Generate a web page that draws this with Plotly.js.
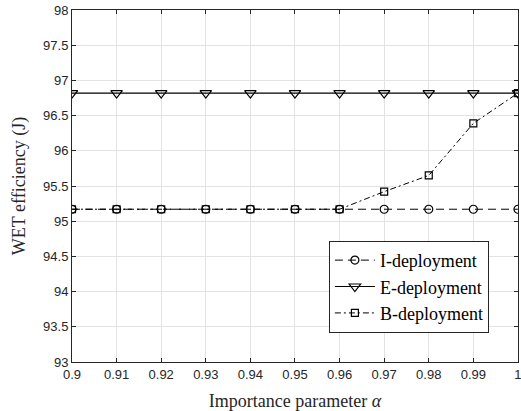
<!DOCTYPE html>
<html><head><meta charset="utf-8">
<script src="https://cdn.plot.ly/plotly-3.0.1.min.js"></script>
<style>html,body{margin:0;padding:0;background:#fff}</style>
</head><body>
<div id="chart" style="width:521px;height:411px"></div>
<script>
const alpha = [0.9, 0.91, 0.92, 0.93, 0.94, 0.95, 0.96, 0.97, 0.98, 0.99, 1.0];
const iDeploy = [95.17, 95.17, 95.17, 95.17, 95.17, 95.17, 95.17, 95.17, 95.17, 95.17, 95.17];
const eDeploy = [96.82, 96.82, 96.82, 96.82, 96.82, 96.82, 96.82, 96.82, 96.82, 96.82, 96.82];
const bDeploy = [95.17, 95.17, 95.17, 95.17, 95.17, 95.17, 95.17, 95.42, 95.65, 96.39, 96.82];
const xTicks = [0.9, 0.91, 0.92, 0.93, 0.94, 0.95, 0.96, 0.97, 0.98, 0.99, 1];
const xTickText = ['0.9','0.91','0.92','0.93','0.94','0.95','0.96','0.97','0.98','0.99','1'];
const yTicks = [93, 93.5, 94, 94.5, 95, 95.5, 96, 96.5, 97, 97.5, 98];

const traces = [
  {x: alpha, y: iDeploy, name: 'I-deployment', mode: 'lines+markers',
   line: {color: '#000', width: 1, dash: '8px,5px'},
   marker: {symbol: 'circle-open', size: 8, color: '#000', line: {width: 1.2, color: '#000'}}},
  {x: alpha, y: eDeploy, name: 'E-deployment', mode: 'lines+markers',
   line: {color: '#000', width: 1.2},
   marker: {symbol: 'triangle-down-open', size: 10, color: '#000', line: {width: 1.2, color: '#000'}}},
  {x: alpha, y: bDeploy, name: 'B-deployment', mode: 'lines+markers',
   line: {color: '#000', width: 1, dash: '6px,3px,2px,3px'},
   marker: {symbol: 'square-open', size: 7, color: '#000', line: {width: 1.2, color: '#000'}}}
];

const axisCommon = {
  showgrid: true, gridcolor: '#e3e3e3', gridwidth: 1,
  showline: true, linecolor: '#262626', linewidth: 1, mirror: 'ticks',
  ticks: 'inside', ticklen: 4, tickcolor: '#262626', zeroline: false,
  ticklabeloverflow: 'allow',
  tickfont: {family: 'Liberation Sans, Arial, sans-serif', size: 13, color: '#262626'}
};

const layout = {
  width: 521, height: 411,
  margin: {l: 72, r: 3, t: 10, b: 49},
  paper_bgcolor: '#fff', plot_bgcolor: '#fff',
  showlegend: true,
  xaxis: Object.assign({}, axisCommon, {
    range: [0.9, 1.00001], tickvals: xTicks, ticktext: xTickText,
    title: {text: 'Importance parameter <i>α</i>', standoff: 13,
            font: {family: 'Liberation Serif, Times New Roman, serif', size: 18, color: '#262626'}}
  }),
  yaxis: Object.assign({}, axisCommon, {
    range: [93, 98.00001], tickvals: yTicks,
    title: {text: 'WET efficiency (J)', standoff: 12,
            font: {family: 'Liberation Serif, Times New Roman, serif', size: 18, color: '#262626'}}
  }),
  legend: {
    x: 0.576, y: 0.344, xanchor: 'left', yanchor: 'top',
    bgcolor: '#fff', bordercolor: '#262626', borderwidth: 1,
    font: {family: 'Liberation Serif, Times New Roman, serif', size: 18, color: '#000'},
    tracegroupgap: 0, itemwidth: 40
  }
};

Plotly.newPlot('chart', traces, layout, {displayModeBar: false, staticPlot: true});
</script>
</body></html>
